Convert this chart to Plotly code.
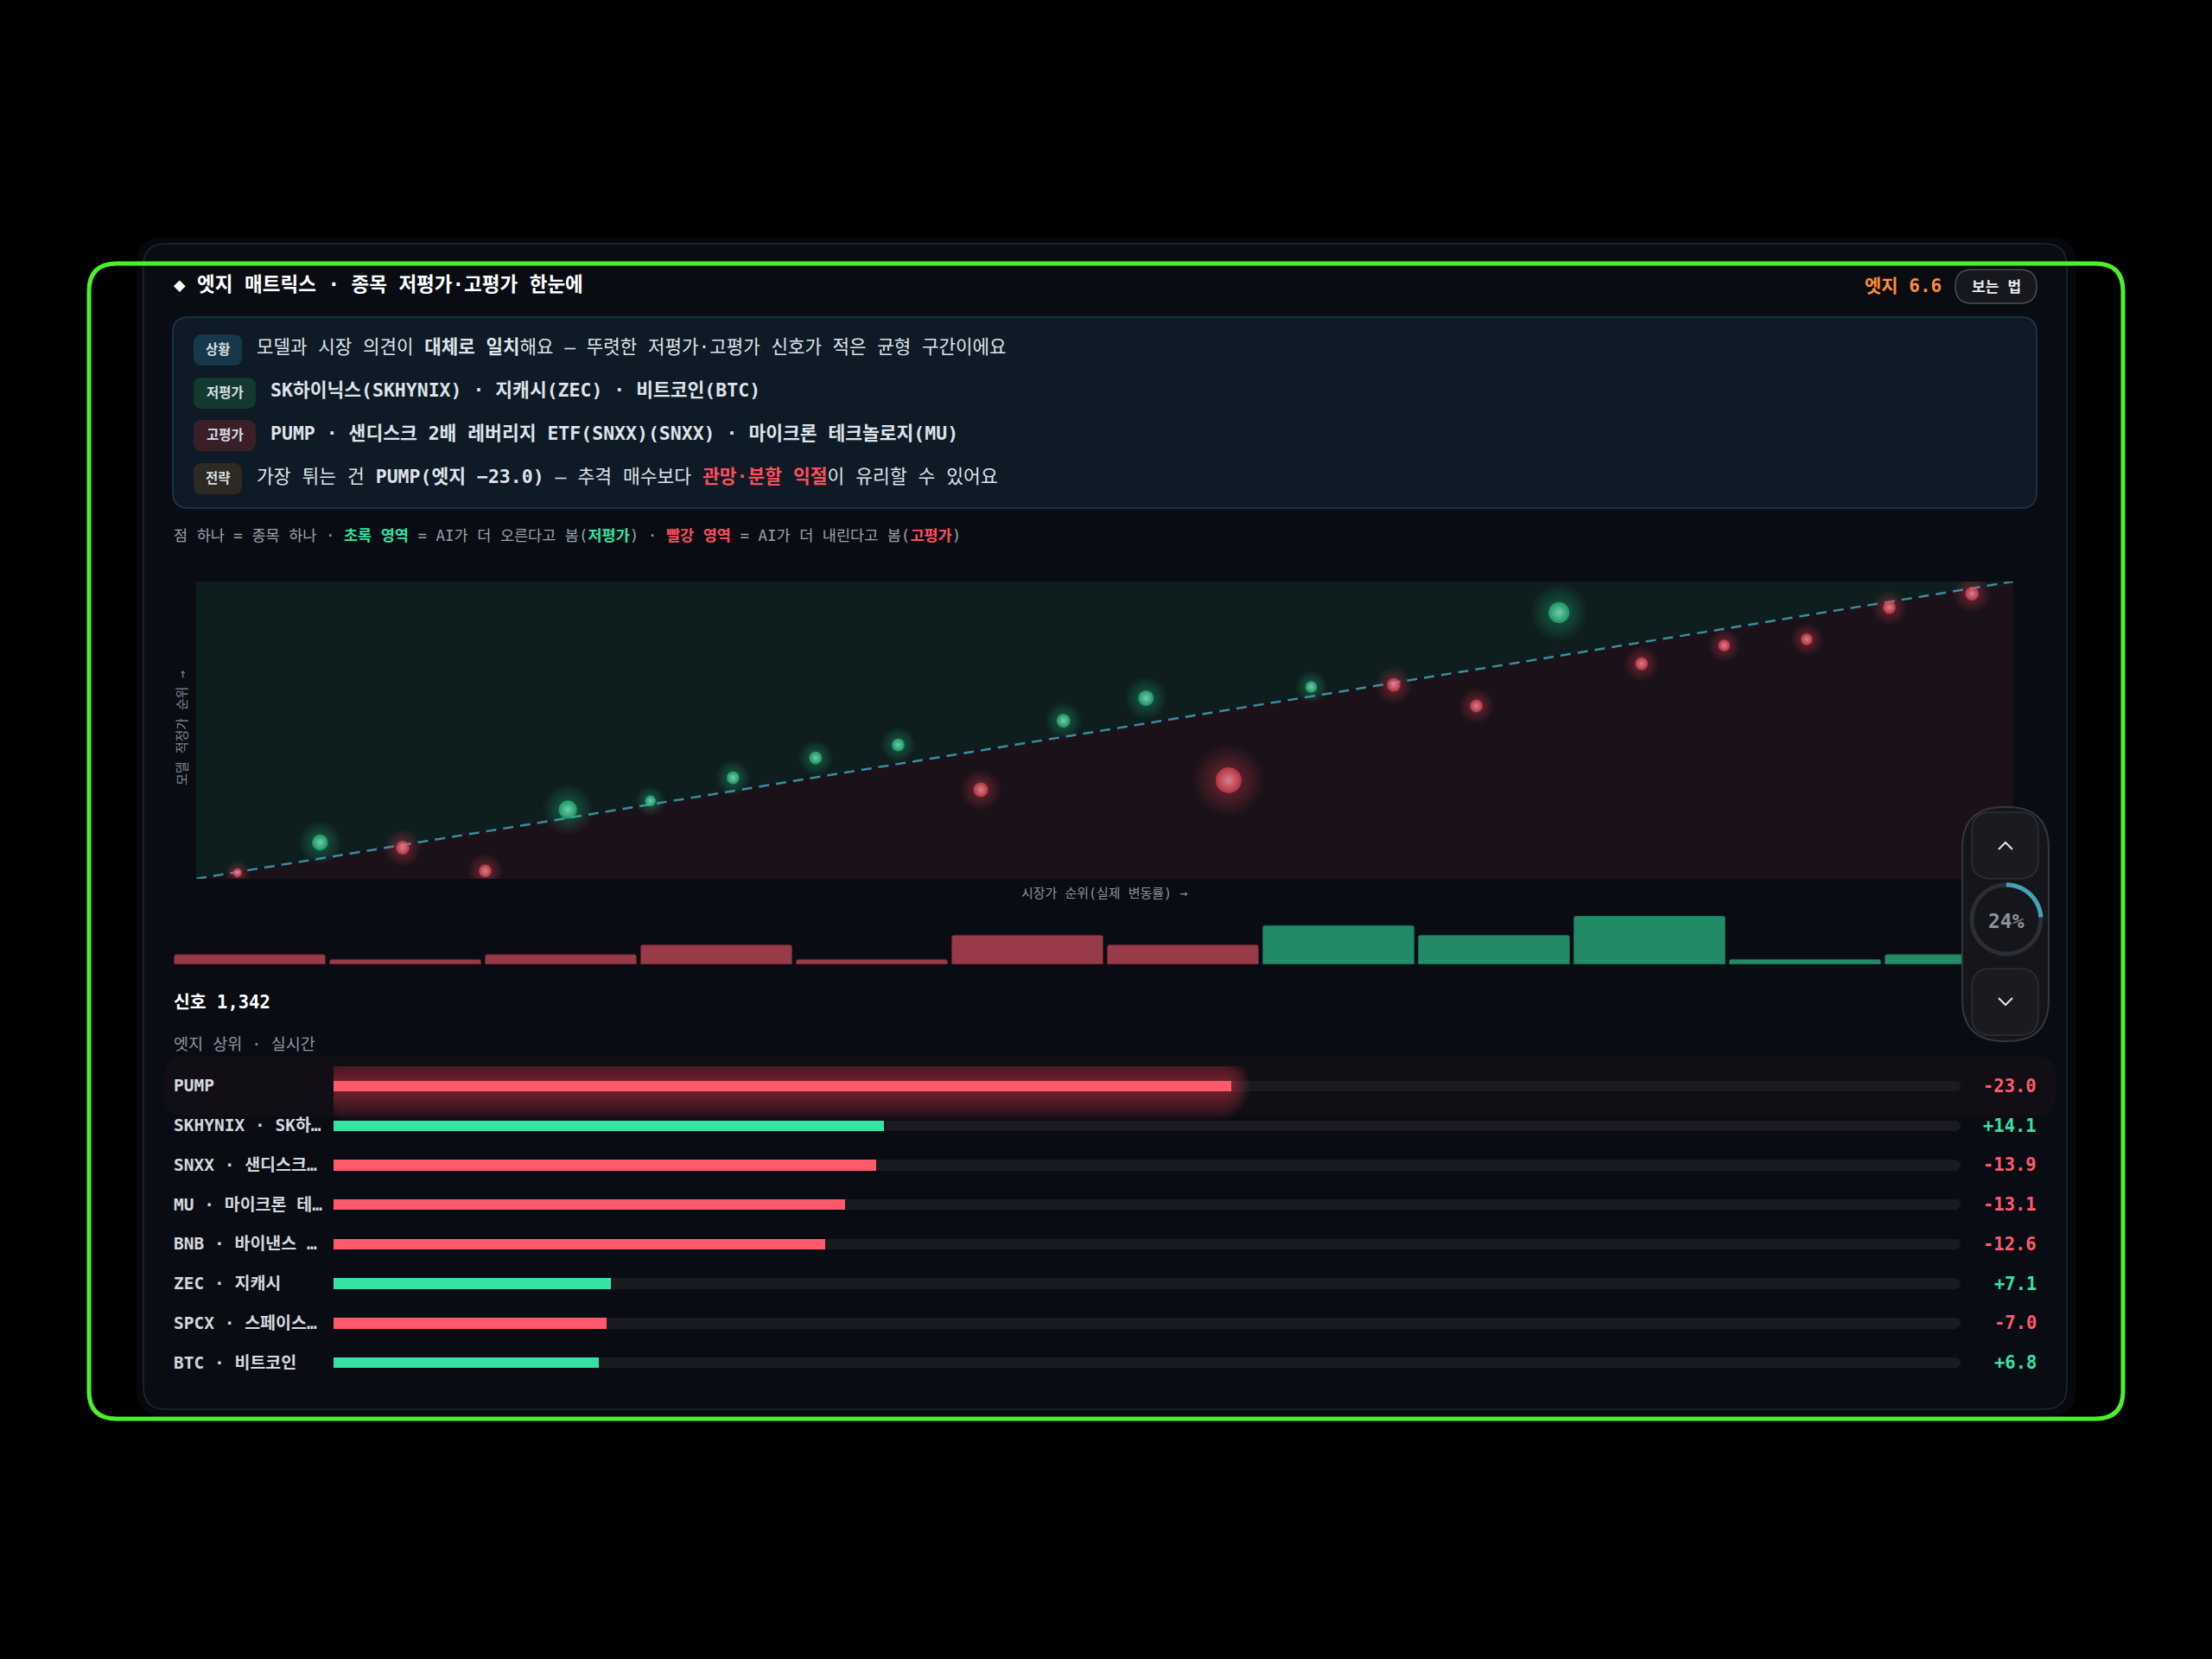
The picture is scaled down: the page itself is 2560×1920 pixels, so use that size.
import math
import plotly.graph_objects as go

W, H = 2560, 1920
FONT = "DejaVu Sans Mono, Noto Sans CJK KR, monospace"

# ---------------- data ----------------
market_rank = [1, 2, 3, 4, 5, 6, 7, 8, 9, 10, 11, 12, 13, 14, 15, 16, 17, 18, 19, 20, 21, 22]
model_rank = [0.95, 3.19, 2.80, 1.08, 5.62, 6.26, 7.98, 9.45, 10.41, 7.09, 12.20, 13.87,
              7.79, 14.70, 14.85, 13.29, 20.20, 16.42, 17.77, 18.22, 20.58, 21.60]
point_edge = [-1.4, 7.1, -4.8, -4.0, 10.2, 2.6, 4.0, 4.0, 4.0, -5.8, 4.8, 6.8,
              -23.0, 3.2, -4.8, -4.0, 14.1, -4.0, -3.2, -3.2, -4.0, -4.8]

hist_bin = [0, 1, 2, 3, 4, 5, 6, 7, 8, 9, 10, 11]
hist_count = [2, 1, 2, 4, 1, 6, 4, 8, 6, 10, 1, 2]
hist_side = ["neg", "neg", "neg", "neg", "neg", "neg", "neg", "pos", "pos", "pos", "pos", "pos"]

top_label = ["PUMP", "SKHYNIX · SK하…", "SNXX · 샌디스크…", "MU · 마이크론 테…",
             "BNB · 바이낸스 …", "ZEC · 지캐시", "SPCX · 스페이스…", "BTC · 비트코인"]
top_edge = [-23.0, 14.1, -13.9, -13.1, -12.6, 7.1, -7.0, 6.8]
top_axis_max = 41.7

matrix_edge = 6.6
signal_count = 1342
scroll_pct = 24

badge_text = ["상황", "저평가", "고평가", "전략"]
summary_text = [
    "모델과 시장 의견이 <b>대체로 일치</b>해요 — 뚜렷한 저평가·고평가 신호가 적은 균형 구간이에요",
    "<b>SK하이닉스(SKHYNIX) · 지캐시(ZEC) · 비트코인(BTC)</b>",
    "<b>PUMP · 샌디스크 2배 레버리지 ETF(SNXX)(SNXX) · 마이크론 테크놀로지(MU)</b>",
    "가장 튀는 건 <b>PUMP(엣지 −23.0)</b> — 추격 매수보다 "
    "<span style='color:#ff4d5e'><b>관망·분할 익절</b></span>이 유리할 수 있어요",
]

# ---------------- styles ----------------
GREEN = "#36e3a2"
RED = "#ff5a6b"
badge_fill = ["#16384a", "#143a30", "#3a1f29", "#2e2a23"]
summary_size = [21.2, 21.5, 21.5, 21.5]

# list axis geometry (px) used for glow sizing
LIST_X0, LIST_X1 = 386, 2269
LIST_Y0, LIST_Y1 = 1234.1, 1600
ROW_PX = (LIST_Y1 - LIST_Y0) / 8
UNIT_PX = (LIST_X1 - LIST_X0) / top_axis_max


def px(x):
    return x / W


def py(y):
    return 1 - y / H


def pt(x, y):
    return f"{px(x):.6f},{py(y):.6f}"


def rrect(x0, y0, x1, y1, r):
    return (f"M {pt(x0 + r, y0)} L {pt(x1 - r, y0)} Q {pt(x1, y0)} {pt(x1, y0 + r)} "
            f"L {pt(x1, y1 - r)} Q {pt(x1, y1)} {pt(x1 - r, y1)} L {pt(x0 + r, y1)} "
            f"Q {pt(x0, y1)} {pt(x0, y1 - r)} L {pt(x0, y0 + r)} Q {pt(x0, y0)} {pt(x0 + r, y0)} Z")


def pshape(path, fill=None, line=None, lw=0, layer="below"):
    return dict(type="path", path=path, xref="paper", yref="paper",
                fillcolor=fill or "rgba(0,0,0,0)",
                line=dict(color=line or "rgba(0,0,0,0)", width=lw), layer=layer)


def txt(x, y, s, size, color, anchor="left", **kw):
    d = dict(x=px(x), y=py(y), xref="paper", yref="paper", text=s, showarrow=False,
             xanchor=anchor, yanchor="middle",
             font=dict(family=FONT, size=size, color=color))
    d.update(kw)
    return d


shapes = []
annotations = []

# frame & panel
shapes.append(pshape(rrect(158, 274, 2403, 1640, 32), fill="#07080c"))
shapes.append(pshape(rrect(166, 282, 2392, 1631, 26), fill="#0a0c13", line="#1a2b37", lw=1.5))

# header
annotations.append(txt(199, 329, "<b>◆ 엣지 매트릭스 · 종목 저평가·고평가 한눈에</b>", 22.5, "#ffffff"))
annotations.append(txt(2249, 331, f"<b>엣지 {matrix_edge:.1f}</b>", 21, "#ff8c3a", anchor="right"))
shapes.append(pshape(rrect(2263, 312, 2357, 351, 19), fill="#16181d", line="#4a4e57", lw=1.5))
annotations.append(txt(2310, 332, "<b>보는 법</b>", 17, "#e8eaee", anchor="center"))

# summary box
shapes.append(pshape(rrect(200, 367, 2357, 588, 18), fill="#0e1a25", line="#1f3b4c", lw=1.5))
badge_rows = [405, 455, 504, 554]
for i, (b, s) in enumerate(zip(badge_text, summary_text)):
    yc = badge_rows[i]
    bw = 56 + 16 * (len(b) - 2)
    shapes.append(pshape(rrect(224, yc - 18, 224 + bw, yc + 18, 10), fill=badge_fill[i]))
    annotations.append(txt(224 + bw / 2, yc, f"<b>{b}</b>", 15.5, "#d5dde3", anchor="center"))
    annotations.append(txt(224 + bw + 15, yc - 3, s, summary_size[i], "#dfe3ea"))

annotations.append(txt(
    199, 620,
    "점 하나 = 종목 하나 · <span style='color:#34e39e'><b>초록 영역</b></span> = AI가 더 오른다고 봄("
    "<span style='color:#34e39e'><b>저평가</b></span>) · <span style='color:#ff4d5e'><b>빨강 영역</b></span>"
    " = AI가 더 내린다고 봄(<span style='color:#ff4d5e'><b>고평가</b></span>)",
    17.5, "#9aa3ad"))

# matrix background regions (data coords)
lo, hi = 0.5, 22.5
shapes.append(dict(type="path", xref="x", yref="y", layer="below",
                   path=f"M {lo},{lo} L {lo},{hi} L {hi},{hi} Z",
                   fillcolor="#0e1d1e", line=dict(width=0)))
shapes.append(dict(type="path", xref="x", yref="y", layer="below",
                   path=f"M {lo},{lo} L {hi},{lo} L {hi},{hi} Z",
                   fillcolor="#1b1219", line=dict(width=0)))
shapes.append(dict(type="line", xref="x", yref="y", layer="below",
                   x0=lo, y0=lo, x1=hi, y1=hi,
                   line=dict(color="#3a8ca0", width=2.5, dash="12px,8px")))

annotations.append(txt(211, 843, "모델 적정가 순위 →", 15, "#7d8794", anchor="center", textangle=-90))
annotations.append(txt(1278, 1034, "시장가 순위(실제 변동률) →", 15, "#8a93a0", anchor="center"))

# points
core_size = [4 + 5.4 * math.sqrt(abs(e)) for e in point_edge]
is_pos = [e > 0 for e in point_edge]
glow = go.Scatter(
    x=market_rank, y=model_rank, mode="markers", xaxis="x", yaxis="y", hoverinfo="skip",
    marker=dict(size=[s * 2.8 for s in core_size],
                color=["rgba(40,210,140,0)" if p else "rgba(255,70,90,0)" for p in is_pos],
                gradient=dict(type="radial",
                              color=["rgba(40,210,140,0.55)" if p else "rgba(255,70,90,0.55)" for p in is_pos]),
                line=dict(width=0)))
core = go.Scatter(
    x=market_rank, y=model_rank, mode="markers", xaxis="x", yaxis="y", hoverinfo="skip",
    marker=dict(size=core_size,
                color=["#1db57c" if p else "#de3a4e" for p in is_pos],
                gradient=dict(type="radial",
                              color=["#9ff7d2" if p else "#ffa8b1" for p in is_pos]),
                line=dict(width=0)))

# histogram
hist = go.Bar(
    x=hist_bin, y=hist_count, xaxis="x2", yaxis="y2", width=0.972, hoverinfo="skip",
    marker=dict(color=["#983a48" if s == "neg" else "#238a67" for s in hist_side],
                line=dict(color=["#5e2230" if s == "neg" else "#17614a" for s in hist_side], width=1),
                cornerradius=3))

# signal header
annotations.append(txt(199, 1160, f"<b>신호 {signal_count:,}</b>", 20.5, "#ffffff"))
annotations.append(txt(199, 1208, "엣지 상위 · 실시간", 18.5, "#8d96a2"))

# top edge list
rows = list(range(len(top_label)))
mag = [abs(e) for e in top_edge]
top_i = mag.index(max(mag))
track = go.Bar(x=[top_axis_max] * len(rows), y=rows, orientation="h", xaxis="x3", yaxis="y3",
               width=0.27, hoverinfo="skip",
               marker=dict(color="#1a1b21", cornerradius=6, line=dict(width=0)))

# soft glow around the strongest row: stacked translucent capsules
glows = []
n_glow = 12
for k in range(n_glow):
    t = k / (n_glow - 1)
    thick = 14 + t * 64          # px
    ext = (t * 22) / UNIT_PX     # glow reach beyond the bar ends, in axis units
    glows.append(go.Bar(x=[mag[top_i] + 2 * ext], base=[-ext], y=[top_i], orientation="h",
                        xaxis="x3", yaxis="y3", width=thick / ROW_PX, hoverinfo="skip",
                        marker=dict(color="rgba(255,80,100,0.045)", cornerradius=int(thick / 2),
                                    line=dict(width=0))))
bars = go.Bar(x=mag, y=rows, orientation="h", xaxis="x3", yaxis="y3", width=0.27, hoverinfo="skip",
              marker=dict(color=[GREEN if e > 0 else RED for e in top_edge], cornerradius=6,
                          line=dict(width=0)))

shapes.append(pshape(rrect(190, 1222, 2380, 1292, 24), fill="rgba(255,80,100,0.03)"))

for i, (lab, e) in enumerate(zip(top_label, top_edge)):
    annotations.append(dict(x=px(199), y=i, xref="paper", yref="y3", text=f"<b>{lab}</b>",
                            showarrow=False, xanchor="left", yanchor="middle",
                            font=dict(family=FONT, size=19.5, color="#d3d8df")))
    annotations.append(dict(x=px(2359), y=i, xref="paper", yref="y3", text=f"<b>{e:+.1f}</b>",
                            showarrow=False, xanchor="right", yanchor="middle",
                            font=dict(family=FONT, size=20.5, color=GREEN if e > 0 else RED)))

# scroll widget (drawn above)
shapes.append(pshape(rrect(2271, 934, 2371, 1205, 48), fill="#14161b", line="#33363c", lw=2, layer="above"))
shapes.append(pshape(rrect(2282, 940, 2359, 1017, 22), fill="#191b20", line="#2c2f35", lw=1.5, layer="above"))
shapes.append(pshape(rrect(2282, 1121, 2359, 1198, 22), fill="#191b20", line="#2c2f35", lw=1.5, layer="above"))
shapes.append(pshape(f"M {pt(2313, 983)} L {pt(2321, 975)} L {pt(2329, 983)}", line="#e6e6e6", lw=2, layer="above"))
shapes.append(pshape(f"M {pt(2313, 1155)} L {pt(2321, 1163)} L {pt(2329, 1155)}", line="#e6e6e6", lw=2, layer="above"))
cx, cy, r = 2322, 1064, 40
shapes.append(dict(type="circle", xref="paper", yref="paper", layer="above",
                   x0=px(cx - r), x1=px(cx + r), y0=py(cy + r), y1=py(cy - r),
                   line=dict(color="#2b2e34", width=5), fillcolor="rgba(0,0,0,0)"))
n_seg = 40
arc_pts = []
for k in range(n_seg + 1):
    th = math.radians(90 - 360 * scroll_pct / 100 * k / n_seg)
    arc_pts.append(pt(cx + r * math.cos(th), cy - r * math.sin(th)))
shapes.append(pshape("M " + " L ".join(arc_pts), line="#45a3b8", lw=5, layer="above"))
annotations.append(txt(cx, cy + 2, f"<b>{scroll_pct}%</b>", 23, "#8e9298", anchor="center"))

# highlight outline
shapes.append(pshape(rrect(103, 305, 2457, 1642, 32), line="#4df02e", lw=5, layer="above"))

fig = go.Figure([glow, core, hist, track] + glows + [bars])

ax = dict(visible=False, showgrid=False, zeroline=False, fixedrange=True)
fig.update_layout(
    width=W, height=H, margin=dict(l=0, r=0, t=0, b=0),
    paper_bgcolor="#000000", plot_bgcolor="rgba(0,0,0,0)",
    showlegend=False, barmode="overlay", bargap=0,
    xaxis=dict(ax, domain=[px(227), px(2330)], range=[lo, hi]),
    yaxis=dict(ax, domain=[py(1017), py(673)], range=[lo, hi]),
    xaxis2=dict(ax, domain=[px(199), px(2359)], range=[-0.5, 11.5], anchor="y2"),
    yaxis2=dict(ax, domain=[py(1116), py(1060)], range=[0, 10], anchor="x2"),
    xaxis3=dict(ax, domain=[px(LIST_X0), px(LIST_X1)], range=[0, top_axis_max], anchor="y3"),
    yaxis3=dict(ax, domain=[py(LIST_Y1), py(LIST_Y0)], range=[7.5, -0.5], anchor="x3"),
    shapes=shapes, annotations=annotations,
    font=dict(family=FONT),
)

fig.write_html(
    "out.html",
    config={"displayModeBar": False, "staticPlot": True},
    post_script="document.body.style.margin='0';document.body.style.background='#000';"
                "document.body.style.overflow='hidden';",
)
